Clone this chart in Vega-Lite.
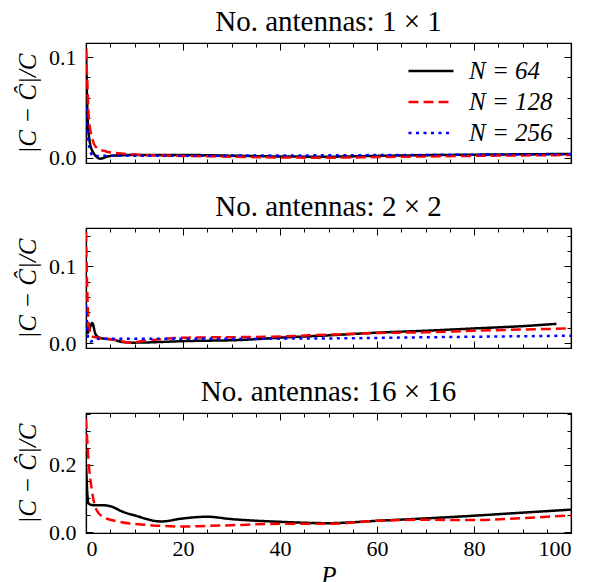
{
  "$schema": "https://vega.github.io/schema/vega-lite/v6.json",
  "background": "white",
  "padding": {"left": 14, "top": 6, "right": 5, "bottom": 0},
  "config": {
    "font": "Liberation Serif",
    "view": {"stroke": "black", "strokeWidth": 1.2},
    "title": {"font": "Liberation Serif", "fontSize": 29, "fontWeight": "normal", "color": "black", "offset": 6},
    "axis": {
      "grid": false,
      "domainColor": "black",
      "domainWidth": 1.2,
      "tickColor": "black",
      "tickWidth": 1,
      "labelFont": "Liberation Serif",
      "labelFontSize": 22,
      "labelColor": "black",
      "titleFont": "Liberation Serif",
      "titleFontSize": 25,
      "titleFontWeight": "normal",
      "titleFontStyle": "italic",
      "titleColor": "black"
    },
    "legend": {
      "labelFont": "Liberation Serif",
      "labelFontSize": 25,
      "labelFontStyle": "italic",
      "labelColor": "black"
    },
    "concat": {"spacing": 21}
  },
  "datasets": {
    "d": [
      {"panel": "1x1", "N": "N = 64", "P": 0, "e": 0.109},
      {"panel": "1x1", "N": "N = 64", "P": 0.3, "e": 0.045},
      {"panel": "1x1", "N": "N = 64", "P": 0.7, "e": 0.018},
      {"panel": "1x1", "N": "N = 64", "P": 1.5, "e": 0.005},
      {"panel": "1x1", "N": "N = 64", "P": 3, "e": -0.001},
      {"panel": "1x1", "N": "N = 64", "P": 4.3, "e": 0.001},
      {"panel": "1x1", "N": "N = 64", "P": 5.6, "e": 0.002},
      {"panel": "1x1", "N": "N = 64", "P": 10, "e": 0.0027},
      {"panel": "1x1", "N": "N = 64", "P": 20, "e": 0.0027},
      {"panel": "1x1", "N": "N = 64", "P": 30, "e": 0.002},
      {"panel": "1x1", "N": "N = 64", "P": 40, "e": 0.0012},
      {"panel": "1x1", "N": "N = 64", "P": 50, "e": 0.001},
      {"panel": "1x1", "N": "N = 64", "P": 60, "e": 0.0018},
      {"panel": "1x1", "N": "N = 64", "P": 70, "e": 0.0025},
      {"panel": "1x1", "N": "N = 64", "P": 80, "e": 0.003},
      {"panel": "1x1", "N": "N = 64", "P": 90, "e": 0.0034},
      {"panel": "1x1", "N": "N = 64", "P": 100, "e": 0.0037},
      {"panel": "1x1", "N": "N = 128", "P": 0, "e": 0.108},
      {"panel": "1x1", "N": "N = 128", "P": 0.3, "e": 0.071},
      {"panel": "1x1", "N": "N = 128", "P": 0.6, "e": 0.038},
      {"panel": "1x1", "N": "N = 128", "P": 1.2, "e": 0.021},
      {"panel": "1x1", "N": "N = 128", "P": 2.2, "e": 0.01},
      {"panel": "1x1", "N": "N = 128", "P": 4.3, "e": 0.006},
      {"panel": "1x1", "N": "N = 128", "P": 7.6, "e": 0.004},
      {"panel": "1x1", "N": "N = 128", "P": 12.5, "e": 0.0025},
      {"panel": "1x1", "N": "N = 128", "P": 20, "e": 0.0018},
      {"panel": "1x1", "N": "N = 128", "P": 30, "e": 0.001},
      {"panel": "1x1", "N": "N = 128", "P": 40, "e": 0.0002},
      {"panel": "1x1", "N": "N = 128", "P": 50, "e": 0.0},
      {"panel": "1x1", "N": "N = 128", "P": 60, "e": 0.0006},
      {"panel": "1x1", "N": "N = 128", "P": 70, "e": 0.0012},
      {"panel": "1x1", "N": "N = 128", "P": 80, "e": 0.0018},
      {"panel": "1x1", "N": "N = 128", "P": 90, "e": 0.0023},
      {"panel": "1x1", "N": "N = 128", "P": 100, "e": 0.0027},
      {"panel": "1x1", "N": "N = 256", "P": 0, "e": 0.05},
      {"panel": "1x1", "N": "N = 256", "P": 0.3, "e": 0.025},
      {"panel": "1x1", "N": "N = 256", "P": 0.7, "e": 0.01},
      {"panel": "1x1", "N": "N = 256", "P": 1.5, "e": 0.0015},
      {"panel": "1x1", "N": "N = 256", "P": 3, "e": 0.0018},
      {"panel": "1x1", "N": "N = 256", "P": 10, "e": 0.002},
      {"panel": "1x1", "N": "N = 256", "P": 20, "e": 0.002},
      {"panel": "1x1", "N": "N = 256", "P": 40, "e": 0.0022},
      {"panel": "1x1", "N": "N = 256", "P": 60, "e": 0.0026},
      {"panel": "1x1", "N": "N = 256", "P": 80, "e": 0.003},
      {"panel": "1x1", "N": "N = 256", "P": 100, "e": 0.0034},
      {"panel": "2x2", "N": "N = 64", "P": 0, "e": 0.028},
      {"panel": "2x2", "N": "N = 64", "P": 0.3, "e": 0.013},
      {"panel": "2x2", "N": "N = 64", "P": 1.3, "e": 0.026},
      {"panel": "2x2", "N": "N = 64", "P": 2, "e": 0.011},
      {"panel": "2x2", "N": "N = 64", "P": 3, "e": 0.0065},
      {"panel": "2x2", "N": "N = 64", "P": 5.6, "e": 0.0044},
      {"panel": "2x2", "N": "N = 64", "P": 7.6, "e": 0.0013},
      {"panel": "2x2", "N": "N = 64", "P": 9.7, "e": 0.0005},
      {"panel": "2x2", "N": "N = 64", "P": 21, "e": 0.0026},
      {"panel": "2x2", "N": "N = 64", "P": 32, "e": 0.004},
      {"panel": "2x2", "N": "N = 64", "P": 40, "e": 0.007},
      {"panel": "2x2", "N": "N = 64", "P": 50, "e": 0.01},
      {"panel": "2x2", "N": "N = 64", "P": 60, "e": 0.0135},
      {"panel": "2x2", "N": "N = 64", "P": 70, "e": 0.016},
      {"panel": "2x2", "N": "N = 64", "P": 80, "e": 0.019},
      {"panel": "2x2", "N": "N = 64", "P": 90, "e": 0.022},
      {"panel": "2x2", "N": "N = 64", "P": 97, "e": 0.025},
      {"panel": "2x2", "N": "N = 128", "P": 0, "e": 0.145},
      {"panel": "2x2", "N": "N = 128", "P": 0.25, "e": 0.07},
      {"panel": "2x2", "N": "N = 128", "P": 0.5, "e": 0.028},
      {"panel": "2x2", "N": "N = 128", "P": 1.2, "e": 0.0087},
      {"panel": "2x2", "N": "N = 128", "P": 3, "e": 0.0065},
      {"panel": "2x2", "N": "N = 128", "P": 5.6, "e": 0.0045},
      {"panel": "2x2", "N": "N = 128", "P": 7.6, "e": 0.002},
      {"panel": "2x2", "N": "N = 128", "P": 9, "e": 0.0005},
      {"panel": "2x2", "N": "N = 128", "P": 11.7, "e": 0.0026},
      {"panel": "2x2", "N": "N = 128", "P": 21, "e": 0.007},
      {"panel": "2x2", "N": "N = 128", "P": 32, "e": 0.0077},
      {"panel": "2x2", "N": "N = 128", "P": 40, "e": 0.0086},
      {"panel": "2x2", "N": "N = 128", "P": 50, "e": 0.011},
      {"panel": "2x2", "N": "N = 128", "P": 60, "e": 0.013},
      {"panel": "2x2", "N": "N = 128", "P": 70, "e": 0.014},
      {"panel": "2x2", "N": "N = 128", "P": 80, "e": 0.016},
      {"panel": "2x2", "N": "N = 128", "P": 90, "e": 0.0176},
      {"panel": "2x2", "N": "N = 128", "P": 100, "e": 0.019},
      {"panel": "2x2", "N": "N = 256", "P": 0, "e": 0.05},
      {"panel": "2x2", "N": "N = 256", "P": 0.25, "e": 0.02},
      {"panel": "2x2", "N": "N = 256", "P": 0.5, "e": 0.004},
      {"panel": "2x2", "N": "N = 256", "P": 1, "e": 0.002},
      {"panel": "2x2", "N": "N = 256", "P": 2, "e": 0.0055},
      {"panel": "2x2", "N": "N = 256", "P": 10, "e": 0.0057},
      {"panel": "2x2", "N": "N = 256", "P": 30, "e": 0.0056},
      {"panel": "2x2", "N": "N = 256", "P": 50, "e": 0.006},
      {"panel": "2x2", "N": "N = 256", "P": 70, "e": 0.0075},
      {"panel": "2x2", "N": "N = 256", "P": 100, "e": 0.0095},
      {"panel": "16x16", "N": "N = 64", "P": 0, "e": 0.2},
      {"panel": "16x16", "N": "N = 64", "P": 0.5, "e": 0.085},
      {"panel": "16x16", "N": "N = 64", "P": 1.5, "e": 0.08},
      {"panel": "16x16", "N": "N = 64", "P": 3.5, "e": 0.08},
      {"panel": "16x16", "N": "N = 64", "P": 5, "e": 0.077},
      {"panel": "16x16", "N": "N = 64", "P": 7.7, "e": 0.06},
      {"panel": "16x16", "N": "N = 64", "P": 10, "e": 0.05},
      {"panel": "16x16", "N": "N = 64", "P": 15.5, "e": 0.032},
      {"panel": "16x16", "N": "N = 64", "P": 20, "e": 0.041},
      {"panel": "16x16", "N": "N = 64", "P": 25, "e": 0.046},
      {"panel": "16x16", "N": "N = 64", "P": 30, "e": 0.039},
      {"panel": "16x16", "N": "N = 64", "P": 40, "e": 0.031},
      {"panel": "16x16", "N": "N = 64", "P": 50, "e": 0.027},
      {"panel": "16x16", "N": "N = 64", "P": 60, "e": 0.034},
      {"panel": "16x16", "N": "N = 64", "P": 70, "e": 0.041},
      {"panel": "16x16", "N": "N = 64", "P": 80, "e": 0.049},
      {"panel": "16x16", "N": "N = 64", "P": 90, "e": 0.058},
      {"panel": "16x16", "N": "N = 64", "P": 100, "e": 0.067},
      {"panel": "16x16", "N": "N = 128", "P": 0, "e": 0.335},
      {"panel": "16x16", "N": "N = 128", "P": 0.5, "e": 0.215},
      {"panel": "16x16", "N": "N = 128", "P": 1.2, "e": 0.125},
      {"panel": "16x16", "N": "N = 128", "P": 2.2, "e": 0.065},
      {"panel": "16x16", "N": "N = 128", "P": 3.6, "e": 0.045},
      {"panel": "16x16", "N": "N = 128", "P": 7, "e": 0.031},
      {"panel": "16x16", "N": "N = 128", "P": 12.5, "e": 0.022},
      {"panel": "16x16", "N": "N = 128", "P": 20, "e": 0.017},
      {"panel": "16x16", "N": "N = 128", "P": 25, "e": 0.019},
      {"panel": "16x16", "N": "N = 128", "P": 30, "e": 0.021},
      {"panel": "16x16", "N": "N = 128", "P": 40, "e": 0.025},
      {"panel": "16x16", "N": "N = 128", "P": 50, "e": 0.025},
      {"panel": "16x16", "N": "N = 128", "P": 60, "e": 0.034},
      {"panel": "16x16", "N": "N = 128", "P": 70, "e": 0.037},
      {"panel": "16x16", "N": "N = 128", "P": 80, "e": 0.036},
      {"panel": "16x16", "N": "N = 128", "P": 90, "e": 0.042},
      {"panel": "16x16", "N": "N = 128", "P": 100, "e": 0.05}
    ]
  },
  "data": {"name": "d"},
  "resolve": {"scale": {"color": "independent", "strokeDash": "independent", "y": "independent"}},
  "vconcat": [
    {
      "title": "No. antennas: 1 × 1",
      "width": 485,
      "height": 120,
      "transform": [{"filter": "datum.panel === '1x1'"}],
      "layer": [
        {
          "mark": {"type": "line", "strokeWidth": 2.5, "interpolate": "monotone", "clip": true},
          "encoding": {
            "x": {"field": "P", "type": "quantitative", "scale": {"domain": [0, 100], "nice": false},
              "axis": {"orient": "bottom", "values": [0,5,10,15,20,25,30,35,40,45,50,55,60,65,70,75,80,85,90,95,100], "labels": false, "title": null,
                "tickSize": {"condition": {"test": "datum.value % 20 === 0", "value": -7}, "value": -4}}},
            "y": {"field": "e", "type": "quantitative", "scale": {"domain": [-0.0053, 0.1144], "nice": false, "zero": false},
              "axis": {"orient": "left", "values": [0, 0.02, 0.04, 0.06, 0.08, 0.1], "title": "|C − Ĉ|/C", "titlePadding": 8, "labelPadding": 17,
                "labelExpr": "abs(datum.value*10 - round(datum.value*10)) < 1e-6 ? format(datum.value, '.1f') : ''",
                "tickSize": {"condition": {"test": "abs(datum.value*10 - round(datum.value*10)) < 1e-6", "value": -7}, "value": -4}}},
            "color": {"field": "N", "type": "nominal", "scale": {"domain": ["N = 64", "N = 128", "N = 256"], "range": ["#000000", "#ff0000", "#0000ff"]},
              "legend": {"title": null, "orient": "none", "legendX": 321, "legendY": 16, "symbolType": "stroke", "symbolSize": 2025, "symbolStrokeWidth": 2.6, "labelOffset": 14, "clipHeight": 24, "rowPadding": 6}},
            "strokeDash": {"field": "N", "type": "nominal", "scale": {"domain": ["N = 64", "N = 128", "N = 256"], "range": [[1, 0], [10, 5], [3, 4.5]]},
              "legend": {"title": null, "orient": "none", "legendX": 321, "legendY": 16, "symbolType": "stroke", "symbolSize": 2025, "symbolStrokeWidth": 2.6, "labelOffset": 14, "clipHeight": 24, "rowPadding": 6}}
          }
        },
        {
          "mark": {"type": "line", "strokeOpacity": 0},
          "encoding": {
            "detail": {"field": "N"},
            "x": {"field": "P", "type": "quantitative",
              "axis": {"orient": "top", "values": [0,5,10,15,20,25,30,35,40,45,50,55,60,65,70,75,80,85,90,95,100], "labels": false, "title": null,
                "tickSize": {"condition": {"test": "datum.value % 20 === 0", "value": -7}, "value": -4}}},
            "y": {"field": "e", "type": "quantitative",
              "axis": {"orient": "right", "values": [0, 0.02, 0.04, 0.06, 0.08, 0.1], "labels": false, "title": null,
                "tickSize": {"condition": {"test": "abs(datum.value*10 - round(datum.value*10)) < 1e-6", "value": -7}, "value": -4}}}
          }
        }
      ]
    },
    {
      "title": "No. antennas: 2 × 2",
      "width": 485,
      "height": 120,
      "transform": [{"filter": "datum.panel === '2x2'"}],
      "layer": [
        {
          "mark": {"type": "line", "strokeWidth": 2.5, "interpolate": "monotone", "clip": true},
          "encoding": {
            "x": {"field": "P", "type": "quantitative", "scale": {"domain": [0, 100], "nice": false},
              "axis": {"orient": "bottom", "values": [0,5,10,15,20,25,30,35,40,45,50,55,60,65,70,75,80,85,90,95,100], "labels": false, "title": null,
                "tickSize": {"condition": {"test": "datum.value % 20 === 0", "value": -7}, "value": -4}}},
            "y": {"field": "e", "type": "quantitative", "scale": {"domain": [-0.0065, 0.15], "nice": false, "zero": false},
              "axis": {"orient": "left", "values": [0, 0.02, 0.04, 0.06, 0.08, 0.1, 0.12, 0.14], "title": "|C − Ĉ|/C", "titlePadding": 8, "labelPadding": 17,
                "labelExpr": "abs(datum.value*10 - round(datum.value*10)) < 1e-6 ? format(datum.value, '.1f') : ''",
                "tickSize": {"condition": {"test": "abs(datum.value*10 - round(datum.value*10)) < 1e-6", "value": -7}, "value": -4}}},
            "color": {"field": "N", "type": "nominal", "scale": {"domain": ["N = 64", "N = 128", "N = 256"], "range": ["#000000", "#ff0000", "#0000ff"]}, "legend": null},
            "strokeDash": {"field": "N", "type": "nominal", "scale": {"domain": ["N = 64", "N = 128", "N = 256"], "range": [[1, 0], [10, 5], [3, 4.5]]}, "legend": null}
          }
        },
        {
          "mark": {"type": "line", "strokeOpacity": 0},
          "encoding": {
            "detail": {"field": "N"},
            "x": {"field": "P", "type": "quantitative",
              "axis": {"orient": "top", "values": [0,5,10,15,20,25,30,35,40,45,50,55,60,65,70,75,80,85,90,95,100], "labels": false, "title": null,
                "tickSize": {"condition": {"test": "datum.value % 20 === 0", "value": -7}, "value": -4}}},
            "y": {"field": "e", "type": "quantitative",
              "axis": {"orient": "right", "values": [0, 0.02, 0.04, 0.06, 0.08, 0.1, 0.12, 0.14], "labels": false, "title": null,
                "tickSize": {"condition": {"test": "abs(datum.value*10 - round(datum.value*10)) < 1e-6", "value": -7}, "value": -4}}}
          }
        }
      ]
    },
    {
      "title": "No. antennas: 16 × 16",
      "width": 485,
      "height": 120,
      "transform": [{"filter": "datum.panel === '16x16'"}],
      "layer": [
        {
          "mark": {"type": "line", "strokeWidth": 2.5, "interpolate": "monotone", "clip": true},
          "encoding": {
            "x": {"field": "P", "type": "quantitative", "scale": {"domain": [0, 100], "nice": false},
              "axis": {"orient": "bottom", "values": [0,5,10,15,20,25,30,35,40,45,50,55,60,65,70,75,80,85,90,95,100], "title": "P", "titlePadding": 4, "labelPadding": 12,
                "labelExpr": "datum.value % 20 === 0 ? datum.label : ''",
                "tickSize": {"condition": {"test": "datum.value % 20 === 0", "value": -7}, "value": -4}}},
            "y": {"field": "e", "type": "quantitative", "scale": {"domain": [-0.002, 0.352], "nice": false, "zero": false},
              "axis": {"orient": "left", "values": [0, 0.05, 0.1, 0.15, 0.2, 0.25, 0.3, 0.35], "title": "|C − Ĉ|/C", "titlePadding": 8, "labelPadding": 17,
                "labelExpr": "abs(datum.value*5 - round(datum.value*5)) < 1e-6 ? format(datum.value, '.1f') : ''",
                "tickSize": {"condition": {"test": "abs(datum.value*5 - round(datum.value*5)) < 1e-6", "value": -7}, "value": -4}}},
            "color": {"field": "N", "type": "nominal", "scale": {"domain": ["N = 64", "N = 128", "N = 256"], "range": ["#000000", "#ff0000", "#0000ff"]}, "legend": null},
            "strokeDash": {"field": "N", "type": "nominal", "scale": {"domain": ["N = 64", "N = 128", "N = 256"], "range": [[1, 0], [10, 5], [3, 4.5]]}, "legend": null}
          }
        },
        {
          "mark": {"type": "line", "strokeOpacity": 0},
          "encoding": {
            "detail": {"field": "N"},
            "x": {"field": "P", "type": "quantitative",
              "axis": {"orient": "top", "values": [0,5,10,15,20,25,30,35,40,45,50,55,60,65,70,75,80,85,90,95,100], "labels": false, "title": null,
                "tickSize": {"condition": {"test": "datum.value % 20 === 0", "value": -7}, "value": -4}}},
            "y": {"field": "e", "type": "quantitative",
              "axis": {"orient": "right", "values": [0, 0.05, 0.1, 0.15, 0.2, 0.25, 0.3, 0.35], "labels": false, "title": null,
                "tickSize": {"condition": {"test": "abs(datum.value*5 - round(datum.value*5)) < 1e-6", "value": -7}, "value": -4}}}
          }
        }
      ]
    }
  ]
}
